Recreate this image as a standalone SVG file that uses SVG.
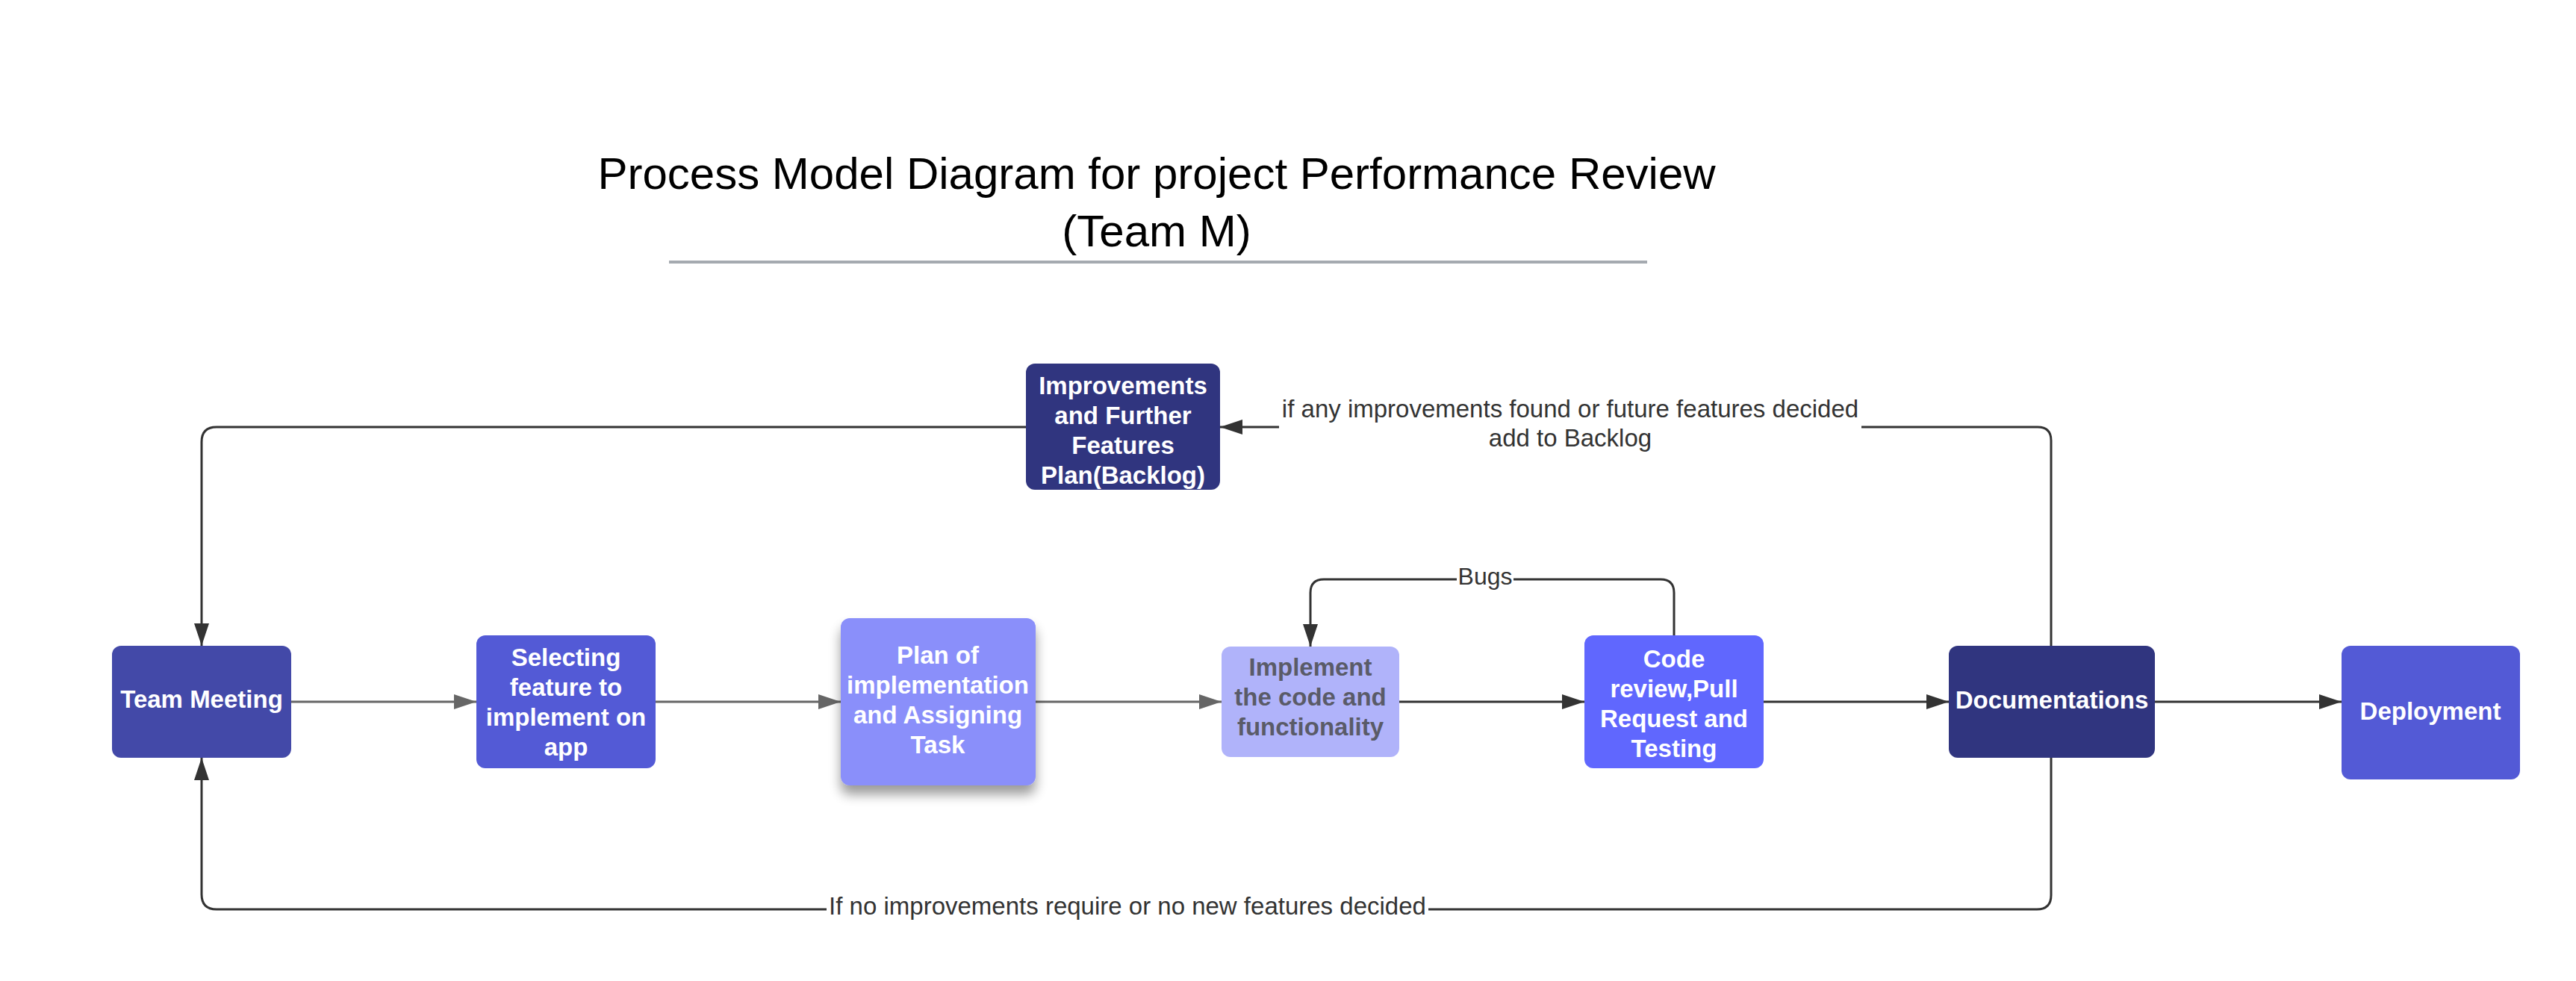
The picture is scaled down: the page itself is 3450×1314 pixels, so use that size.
<svg xmlns="http://www.w3.org/2000/svg" width="3450" height="1314" viewBox="0 0 3450 1314">
<style>
.title{font-family:"Liberation Sans",Arial,sans-serif;font-size:60px;fill:#000;text-anchor:middle}
.nt{font-family:"Liberation Sans",Arial,sans-serif;font-size:33px;font-weight:bold;fill:#fff;text-anchor:middle}
.nt.dk{fill:#5a5b68}
.lbl{font-family:"Liberation Sans",Arial,sans-serif;font-size:33px;fill:#333;text-anchor:middle}
.c{fill:none;stroke:#333;stroke-width:3}
.cg{fill:none;stroke:#666;stroke-width:3}
</style>
<defs>
<marker id="ad" markerUnits="userSpaceOnUse" markerWidth="30" markerHeight="20" refX="30" refY="10" orient="auto" viewBox="0 0 30 20">
<path d="M0,0 L30,10 L0,20 z" fill="#333"/>
</marker>
<marker id="ag" markerUnits="userSpaceOnUse" markerWidth="30" markerHeight="20" refX="30" refY="10" orient="auto" viewBox="0 0 30 20">
<path d="M0,0 L30,10 L0,20 z" fill="#666"/>
</marker>
<filter id="sh" x="-20%" y="-20%" width="140%" height="150%">
<feGaussianBlur in="SourceAlpha" stdDeviation="8"/>
<feOffset dx="0" dy="12" result="b"/>
<feComponentTransfer><feFuncA type="linear" slope="0.4"/></feComponentTransfer>
<feMerge><feMergeNode/><feMergeNode in="SourceGraphic"/></feMerge>
</filter>
</defs>
<rect width="3450" height="1314" fill="#fff"/>

<g id="title">
<text class="title" x="1549" y="253">Process Model Diagram for project Performance Review</text>
<text class="title" x="1549" y="330">(Team M)</text>
<rect x="896" y="349" width="1310" height="4" fill="#a5aab0"/>
</g>

<g id="connectors">
<path class="cg" d="M390,940 H638" marker-end="url(#ag)"/>
<path class="cg" d="M878,940 H1126" marker-end="url(#ag)"/>
<path class="cg" d="M1387,940 H1636" marker-end="url(#ag)"/>
<path class="c" d="M1874,940 H2122" marker-end="url(#ad)"/>
<path class="c" d="M2362,940 H2610" marker-end="url(#ad)"/>
<path class="c" d="M2886,940 H3136" marker-end="url(#ad)"/>
<path class="c" d="M2242,851 V794 Q2242,776 2224,776 H1773 Q1755,776 1755,794 V866" marker-end="url(#ad)"/>
<path class="c" d="M2747,865 V590 Q2747,572 2729,572 H1634" marker-end="url(#ad)"/>
<path class="c" d="M1374,572 H290 Q270,572 270,592 V865" marker-end="url(#ad)"/>
<path class="c" d="M2747,1015 V1199 Q2747,1218 2728,1218 H290 Q270,1218 270,1198 V1015" marker-end="url(#ad)"/>
<rect x="1951" y="750" width="76" height="44" fill="#fff"/>
<text class="lbl" x="1989" y="783" style="font-size:32px">Bugs</text>
<rect x="1713" y="530" width="780" height="80" fill="#fff"/>
<text class="lbl" x="2103" y="559">if any improvements found or future features decided</text>
<text class="lbl" x="2103" y="598">add to Backlog</text>
<rect x="1107" y="1192" width="806" height="44" fill="#fff"/>
<text class="lbl" x="1510" y="1225">If no improvements require or no new features decided</text>
</g>

<g id="team-meeting">
<rect x="150" y="865" width="240" height="150" rx="12" fill="#4349a8"/>
<text class="nt" x="270" y="948">Team Meeting</text>
</g>

<g id="selecting-feature">
<rect x="638" y="851" width="240" height="178" rx="12" fill="#535ad6"/>
<text class="nt" x="758" y="892">Selecting</text>
<text class="nt" x="758" y="932">feature to</text>
<text class="nt" x="758" y="972">implement on</text>
<text class="nt" x="758" y="1012">app</text>
</g>

<g id="plan-implementation">
<rect x="1126" y="828" width="261" height="224" rx="12" fill="#8a8ffa" filter="url(#sh)"/>
<text class="nt" x="1256" y="889">Plan of</text>
<text class="nt" x="1256" y="929">implementation</text>
<text class="nt" x="1256" y="969">and Assigning</text>
<text class="nt" x="1256" y="1009">Task</text>
</g>

<g id="implement-code">
<rect x="1636" y="866" width="238" height="148" rx="12" fill="#b0b3fa"/>
<text class="nt dk" x="1755" y="905">Implement</text>
<text class="nt dk" x="1755" y="945">the code and</text>
<text class="nt dk" x="1755" y="985">functionality</text>
</g>

<g id="code-review">
<rect x="2122" y="851" width="240" height="178" rx="12" fill="#6067fe"/>
<text class="nt" x="2242" y="894">Code</text>
<text class="nt" x="2242" y="934">review,Pull</text>
<text class="nt" x="2242" y="974">Request and</text>
<text class="nt" x="2242" y="1014">Testing</text>
</g>

<g id="documentations">
<rect x="2610" y="865" width="276" height="150" rx="12" fill="#30357f"/>
<text class="nt" x="2748" y="949">Documentations</text>
</g>

<g id="deployment">
<rect x="3136" y="865" width="239" height="179" rx="12" fill="#535ad6"/>
<text class="nt" x="3255" y="964">Deployment</text>
</g>

<g id="improvements-backlog">
<rect x="1374" y="487" width="260" height="169" rx="12" fill="#30357f"/>
<text class="nt" x="1504" y="528">Improvements</text>
<text class="nt" x="1504" y="568">and Further</text>
<text class="nt" x="1504" y="608">Features</text>
<text class="nt" x="1504" y="648">Plan(Backlog)</text>
</g>
</svg>
